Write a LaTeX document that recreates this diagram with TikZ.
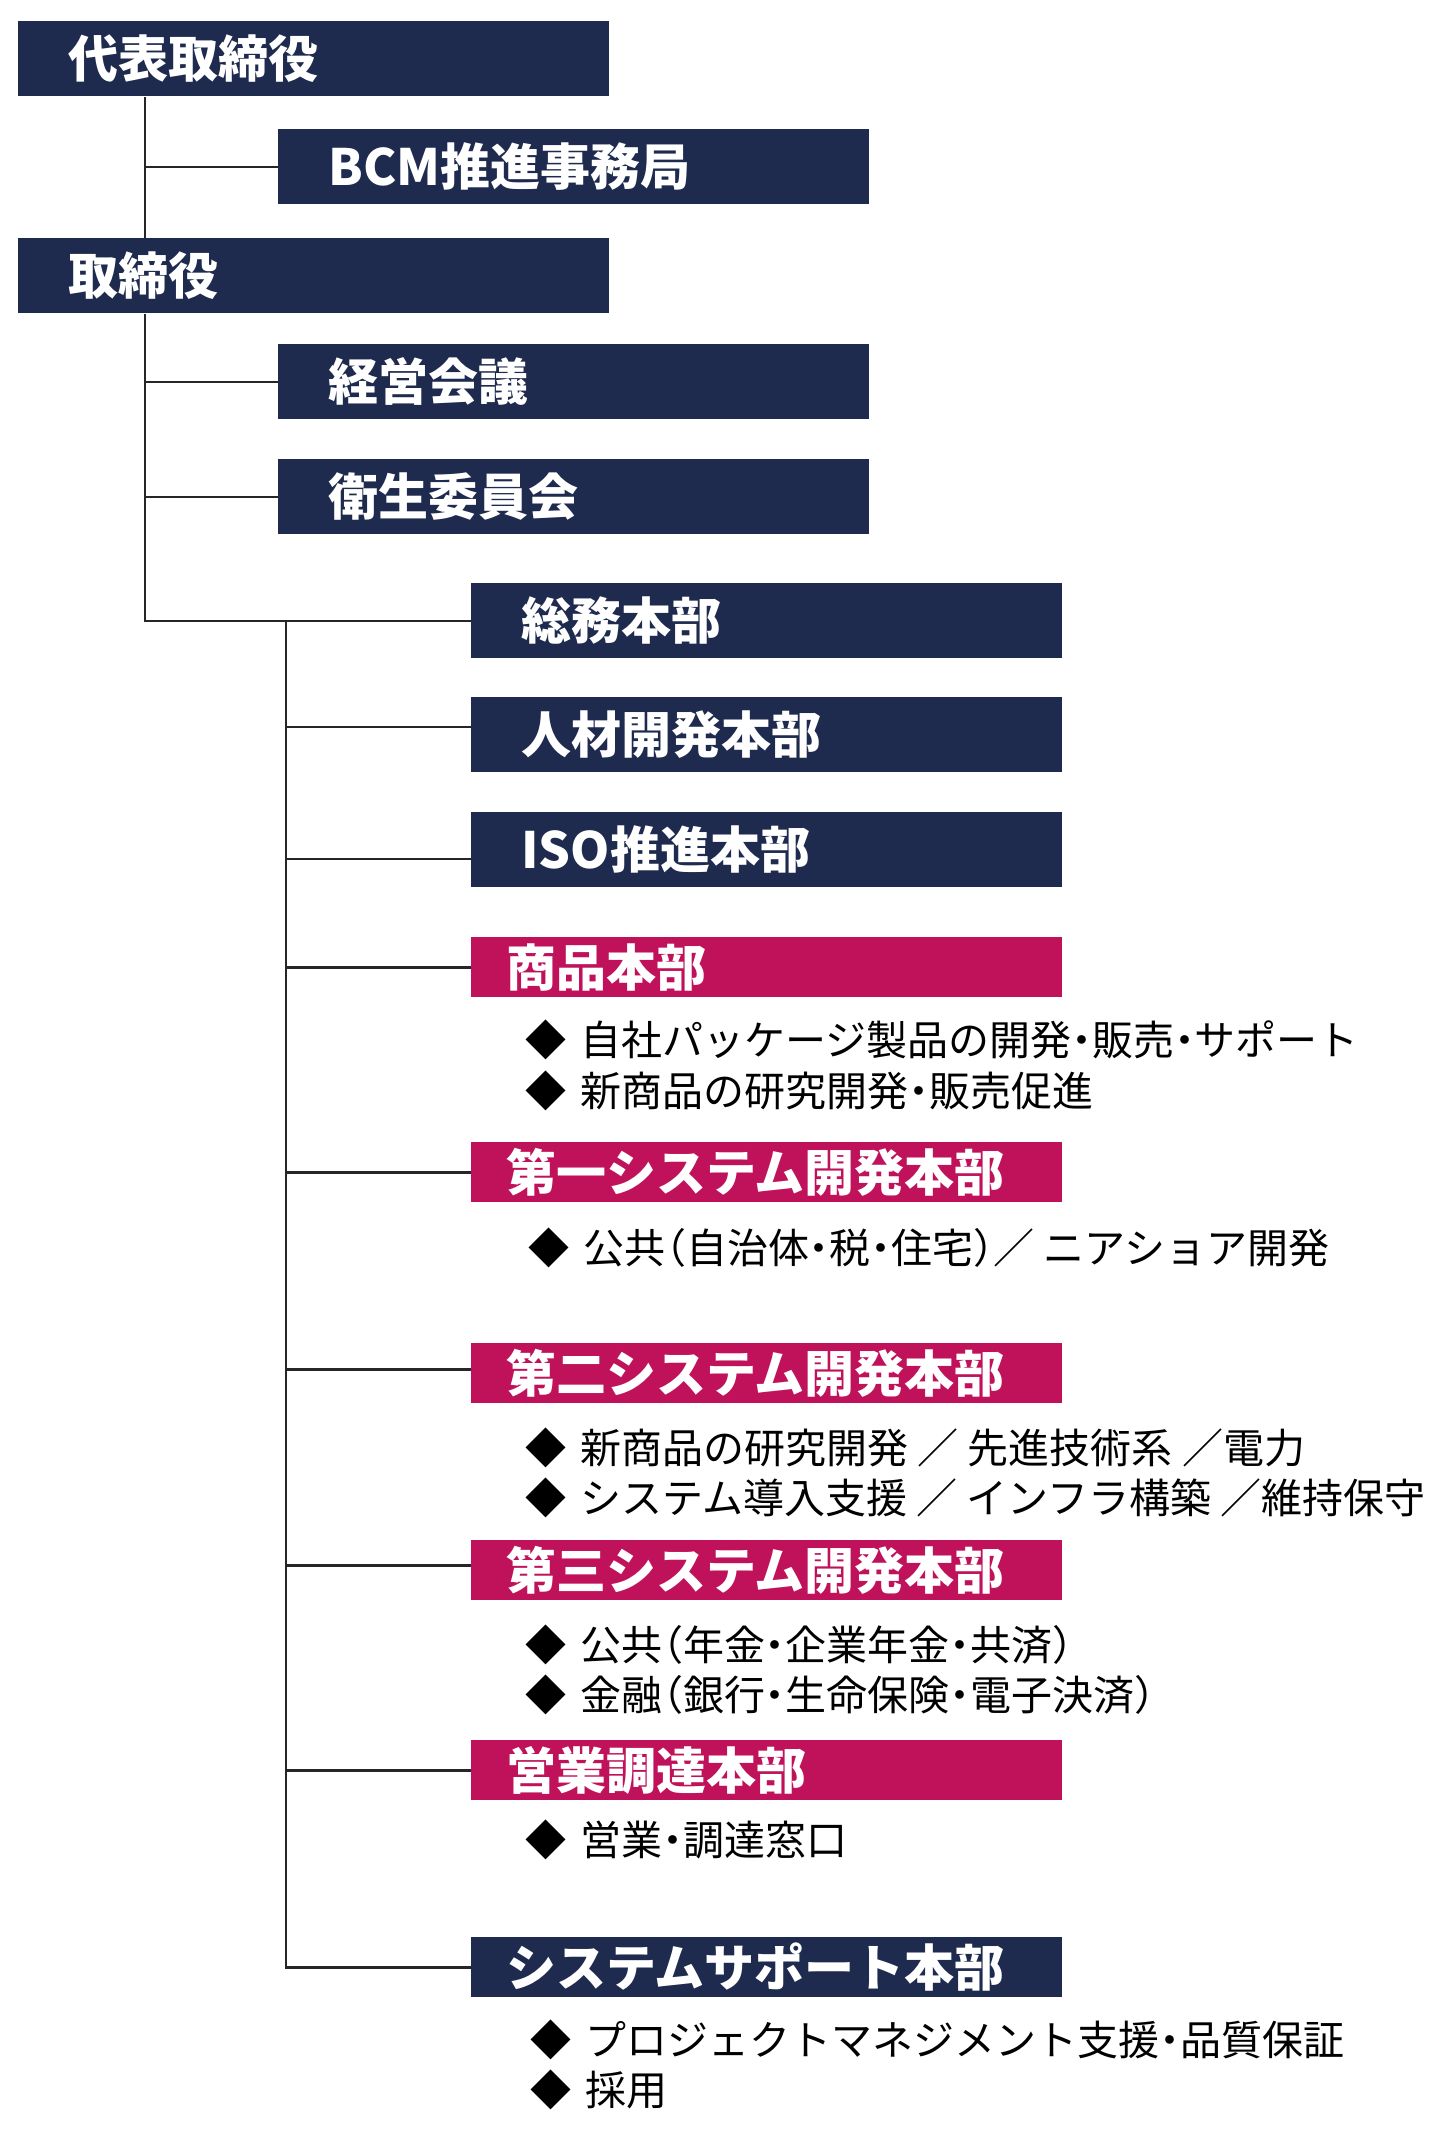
\documentclass[tikz,border=0pt]{standalone}
\usepackage{fontspec}
\newfontfamily\jpfont{Noto Sans CJK JP}
\newfontfamily\jpitem[RawFeature=+halt]{Noto Sans CJK JP}
\usepackage{tikz}
\usetikzlibrary{positioning}
\definecolor{navy}{RGB}{30,43,79}
\definecolor{rose}{RGB}{192,18,90}
\newcommand\headfont{\jpfont\bfseries\fontsize{25pt}{28pt}\selectfont}
\newcommand\itemfont{\jpitem\fontsize{20.5pt}{23pt}\selectfont}
\newcommand\dia{◆\hspace{2.5pt} }
\tikzset{
  conn/.style={line width=1.1pt, black!85},
  bigbox/.style={anchor=north west, fill=navy, text=white, inner ysep=0pt, inner xsep=25pt,
    text width=245.5pt, minimum height=37.5pt, font=\headfont},
  smallbox/.style={anchor=north west, fill=#1, text=white, inner ysep=0pt, inner xsep=17.5pt,
    text width=260.5pt, minimum height=30pt, font=\headfont},
  smallbox/.default=rose,
  items/.style={anchor=west, inner sep=0pt, font=\itemfont}
}

\begin{document}
\begin{tikzpicture}[x=0.5pt, y=-0.5pt]
  \useasboundingbox (0,0) rectangle (1440,2144);

  % boards
  \node[bigbox] (daihyo) at (18,21) {代表取締役};
  \node[bigbox] (bcm) at (278,129) {BCM推進事務局};
  \node[bigbox] (torishimari) at (18,238) {取締役};
  \node[bigbox] (keiei) at (278,344) {経営会議};
  \node[bigbox] (eisei) at (278,459) {衛生委員会};

  % divisions
  \node[bigbox] (somu) at (471,583) {総務本部};
  \node[bigbox] (jinzai) at (471,697) {人材開発本部};
  \node[bigbox] (iso) at (471,812) {ISO推進本部};
  \node[smallbox] (shohin) at (471,937) {商品本部};
  \node[smallbox] (dai1) at (471,1142) {第一システム開発本部};
  \node[smallbox] (dai2) at (471,1343) {第二システム開発本部};
  \node[smallbox] (dai3) at (471,1540) {第三システム開発本部};
  \node[smallbox] (eigyo) at (471,1740) {営業調達本部};
  \node[smallbox=navy] (support) at (471,1937) {システムサポート本部};

  % duties
  \node[items] (shohin-a) at (525,1040) {\dia 自社パッケージ製品の開発・販売・サポート};
  \node[items] (shohin-b) at (525,1091) {\dia 新商品の研究開発・販売促進};
  \node[items] (dai1-a) at (528,1248) {\dia 公共（自治体・税・住宅）／ ニアショア開発};
  \node[items] (dai2-a) at (525,1448) {\dia 新商品の研究開発 ／ 先進技術系 ／電力};
  \node[items] (dai2-b) at (525,1498) {\dia システム導入支援 ／ インフラ構築 ／維持保守};
  \node[items] (dai3-a) at (525,1645) {\dia 公共（年金・企業年金・共済）};
  \node[items] (dai3-b) at (525,1695) {\dia 金融（銀行・生命保険・電子決済）};
  \node[items] (eigyo-a) at (525,1840) {\dia 営業・調達窓口};
  \node[items] (support-a) at (530,2040) {\dia プロジェクトマネジメント支援・品質保証};
  \node[items] (support-b) at (530,2090) {\dia 採用};

  % tree lines
  \draw[conn] (daihyo.south west) ++(63.5pt,0) coordinate (t1) -- (t1 |- torishimari.north);
  \draw[conn] (t1 |- bcm.west) -- (bcm.west);
  \draw[conn] (torishimari.south -| t1) |- (somu.west);
  \draw[conn] (t1 |- keiei.west) -- (keiei.west);
  \draw[conn] (t1 |- eisei.west) -- (eisei.west);
  \coordinate (t2) at ([xshift=-92.5pt]somu.west);
  \draw[conn] (t2) |- (support.west);
  \foreach \n/\dy in {jinzai/4pt, iso/-4.5pt, shohin/0pt, dai1/0pt, dai2/2pt, dai3/2.5pt, eigyo/0pt}
    \draw[conn] ([yshift=\dy]\n.west) -- ++(-92.5pt,0);
\end{tikzpicture}
\end{document}
